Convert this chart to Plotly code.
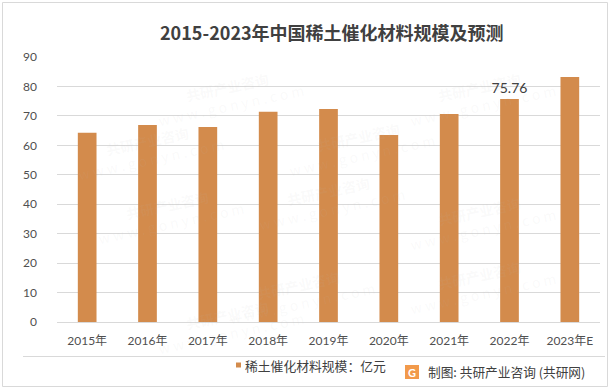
import plotly.graph_objects as go

categories = ["2015年", "2016年", "2017年", "2018年", "2019年", "2020年", "2021年", "2022年", "2023年E"]
values = [64.3, 66.9, 66.2, 71.4, 72.3, 63.5, 70.6, 75.76, 83.2]
labels = ["", "", "", "", "", "", "", "75.76", ""]
series_name = "稀土催化材料规模：亿元"
title_text = "2015-2023年中国稀土催化材料规模及预测"
source_text = "制图: 共研产业咨询 (共研网)"
y_ticks = [0, 10, 20, 30, 40, 50, 60, 70, 80, 90]

W, H = 615, 390
L, R, T, B = 57, 600, 57, 322  # plot area in pixels


def px(x):
    return (x - L) / (R - L)


def py(y):
    return (B - y) / (B - T)


BAR = "#D38B4C"
TXT = "#505050"
CJK = "Noto Sans CJK SC"
NUM = "Lato, " + CJK

fig = go.Figure()
fig.add_trace(go.Bar(
    x=categories, y=values, name=series_name,
    marker=dict(color=BAR, line=dict(width=0)),
    width=0.31,
    text=labels, textposition="outside", constraintext="none",
    textfont=dict(family=NUM, size=14, color="#404040"),
    cliponaxis=False, showlegend=False,
))

shapes = [
    # outer border
    dict(type="rect", xref="paper", yref="paper", x0=px(2.5), x1=px(607.5), y0=py(386.5), y1=py(2.5),
         line=dict(color="#D9D9D9", width=1), fillcolor="rgba(0,0,0,0)", layer="below"),
    # separator line
    dict(type="line", xref="paper", yref="paper", x0=px(23), x1=px(605), y0=py(356.5), y1=py(356.5),
         line=dict(color="#D9D9D9", width=1)),
    # legend swatch
    dict(type="rect", xref="paper", yref="paper", x0=px(236), x1=px(241), y0=py(367.5), y1=py(362.5),
         line=dict(width=0), fillcolor=BAR),
    # logo
    dict(type="rect", xref="paper", yref="paper", x0=px(405), x1=px(419), y0=py(379), y1=py(365),
         line=dict(width=0), fillcolor="#F29A4B"),
]

annotations = [
    dict(text="<b>" + title_text + "</b>", xref="paper", yref="paper", x=px(332), y=py(32),
         showarrow=False, font=dict(family=CJK, size=18, color="#404040"), xanchor="center", yanchor="middle"),
    dict(text=series_name, xref="paper", yref="paper", x=px(243), y=py(365),
         showarrow=False, font=dict(family=CJK, size=12.8, color="#404040"), xanchor="left", yanchor="middle"),
    dict(text=source_text, xref="paper", yref="paper", x=px(426), y=py(371.5),
         showarrow=False, font=dict(family=CJK, size=12.7, color="#404040"), xanchor="left", yanchor="middle"),
    dict(text="<b>G</b>", xref="paper", yref="paper", x=px(412), y=py(372),
         showarrow=False, font=dict(family="Lato", size=11, color="white"), xanchor="center", yanchor="middle"),
]

# faint watermarks
wm = [(150, 60), (560, 60), (70, 150), (330, 200), (90, 250), (360, 110), (560, 220), (300, 330), (560, 320), (150, 360)]
for (x, y) in wm:
    annotations.append(dict(text="<b>共研产业咨询</b><br>w w w . g o n y n . c o m", xref="paper", yref="paper",
                            x=px(x), y=py(y), showarrow=False, textangle=-12,
                            font=dict(family=CJK, size=14, color="rgba(190,190,190,0.07)")))

fig.update_layout(
    width=W, height=H,
    margin=dict(l=L, r=W - R, t=T, b=H - B),
    paper_bgcolor="white", plot_bgcolor="white",
    showlegend=False,
    xaxis=dict(showgrid=False, showline=True, linecolor="#D9D9D9", linewidth=1, ticks="",
               tickfont=dict(family=NUM, size=12, color=TXT), ticklabelstandoff=8, fixedrange=True),
    yaxis=dict(range=[0, 90], tickvals=y_ticks, showgrid=True, gridcolor="#D9D9D9", gridwidth=1,
               zeroline=False, showline=False, ticks="",
               tickfont=dict(family=NUM, size=12, color=TXT), ticklabelstandoff=19),
    bargap=0.69,
    shapes=shapes,
    annotations=annotations,
)

fig.write_html("out.html", config={"displayModeBar": False},
               post_script="document.body.style.margin='0';document.body.style.overflow='hidden';")
